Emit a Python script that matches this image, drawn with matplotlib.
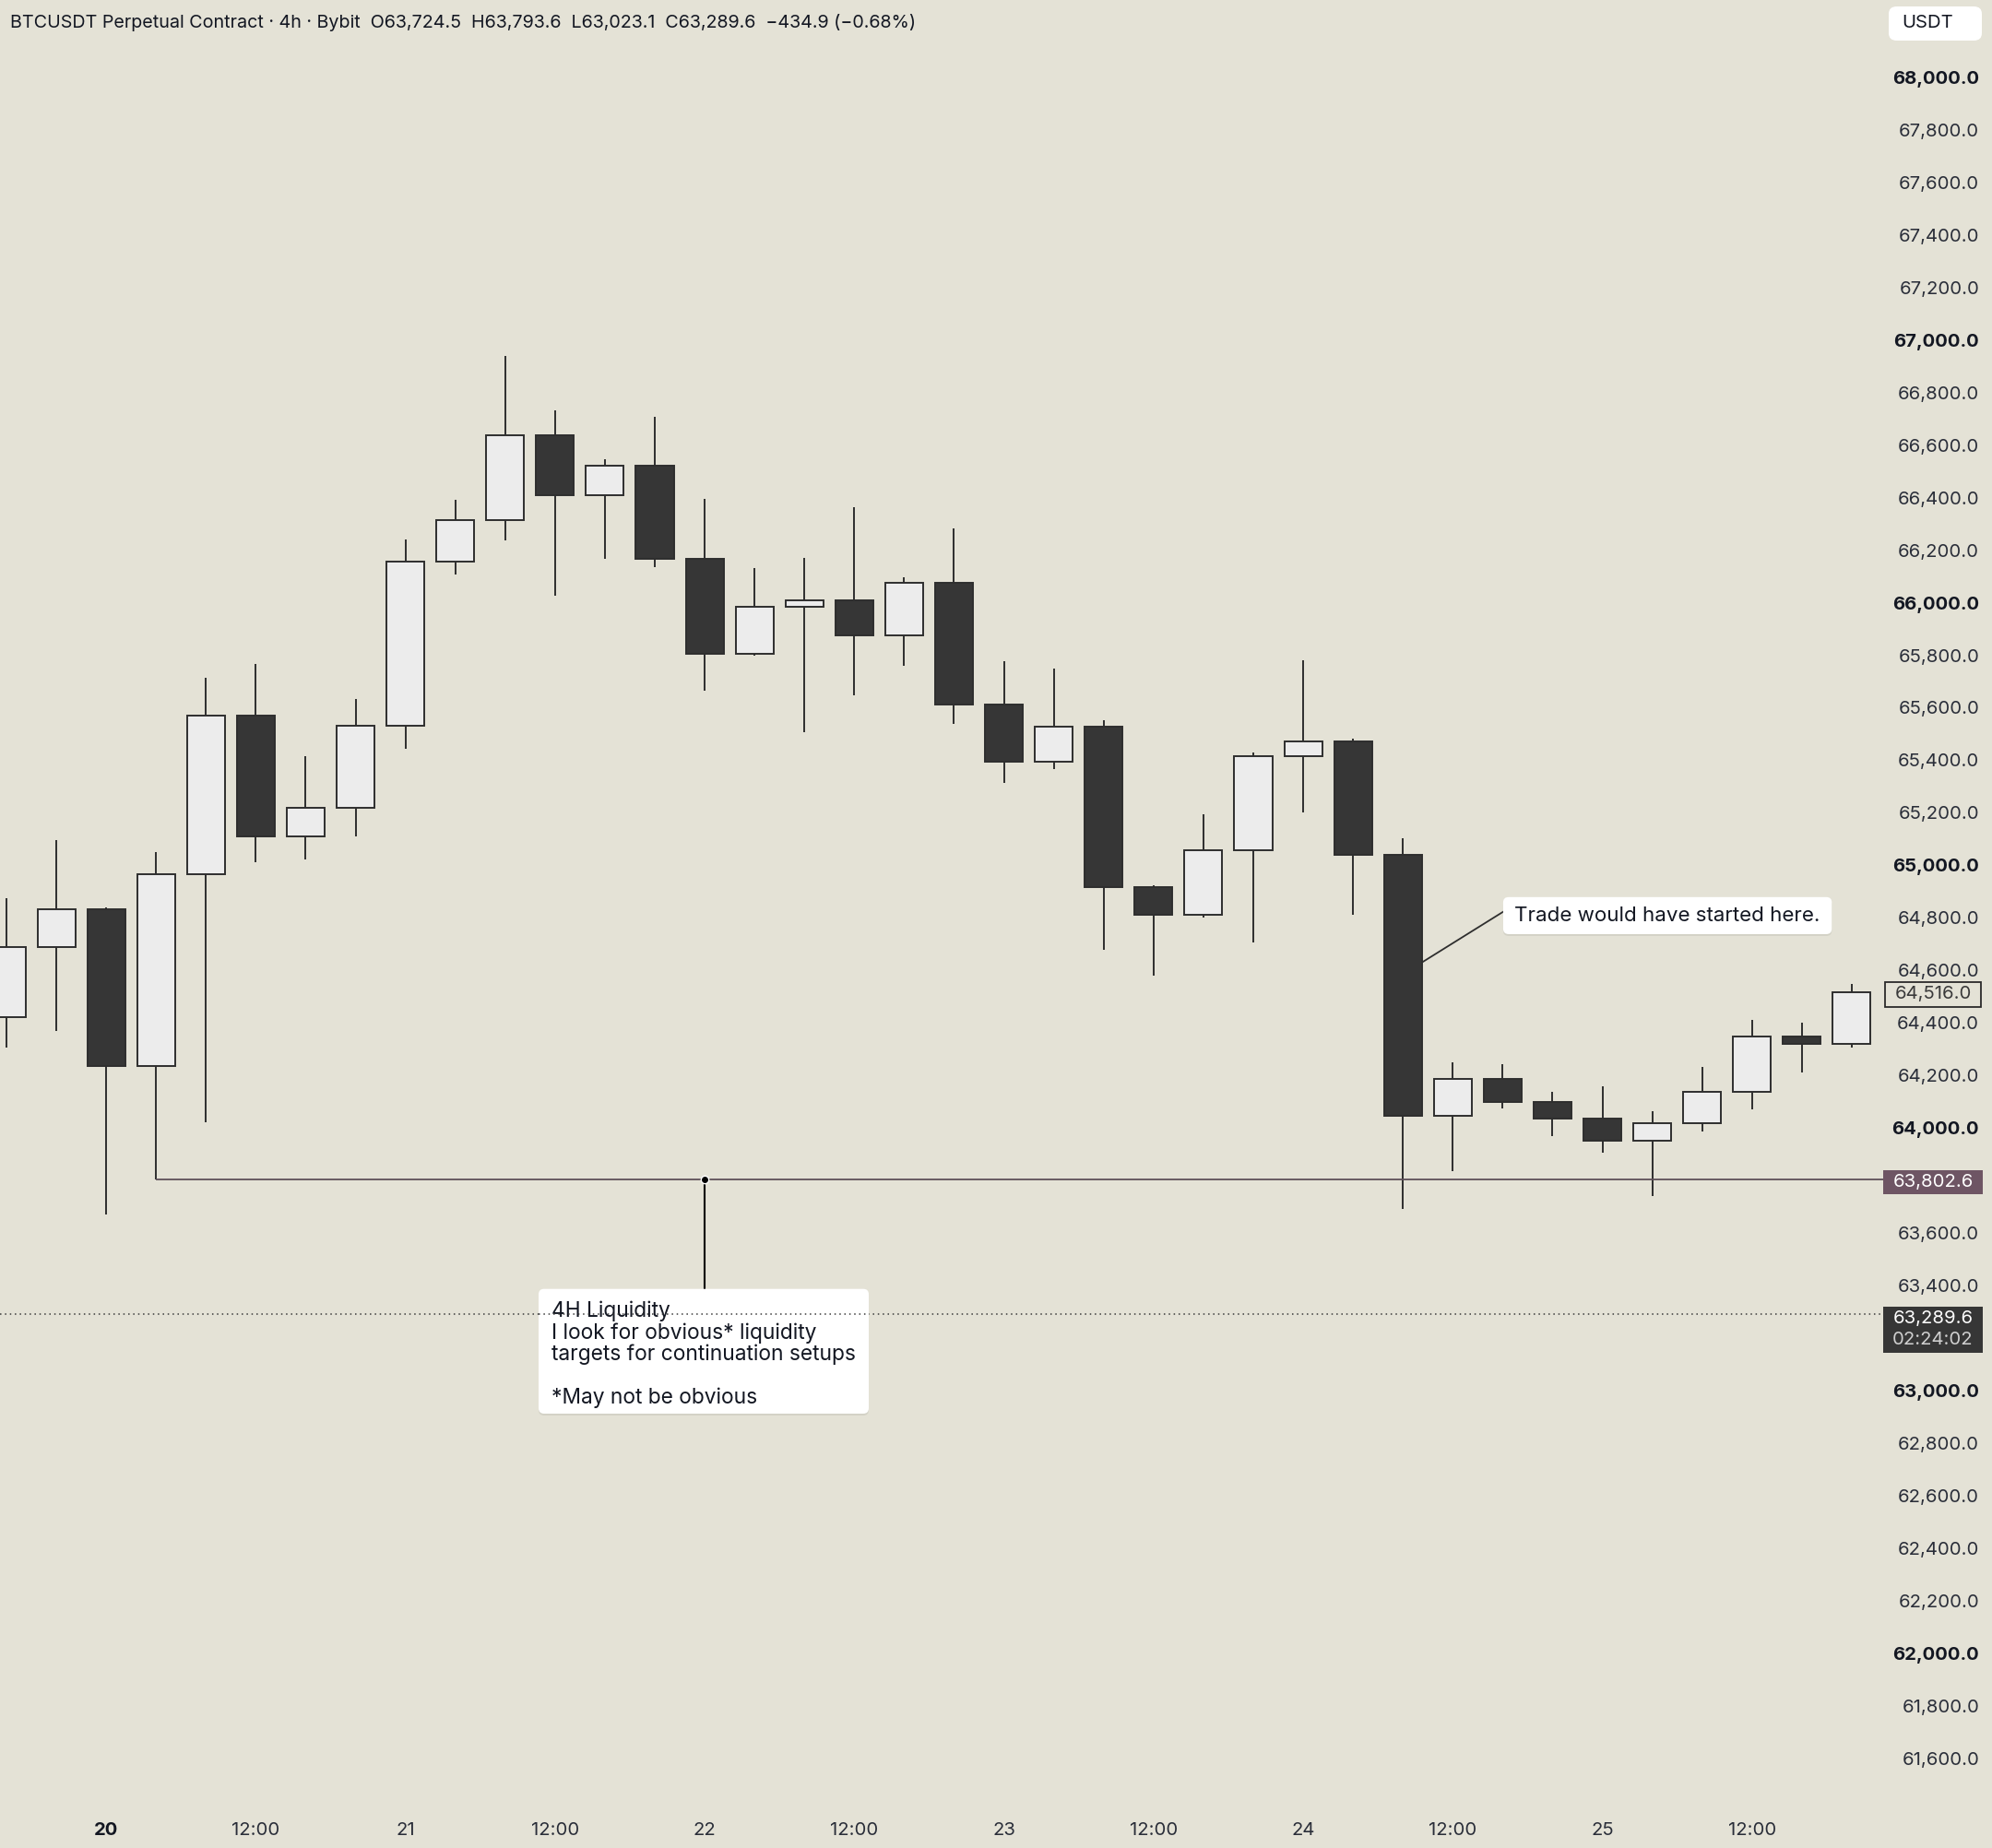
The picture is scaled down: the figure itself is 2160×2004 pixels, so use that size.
import matplotlib
matplotlib.use("Agg")
import matplotlib.pyplot as plt
import matplotlib.transforms as mtransforms
from matplotlib.patches import Rectangle, FancyBboxPatch

plt.rcParams['font.family'] = ['Inter', 'DejaVu Sans']

# 4h candles, 20th 00:00 is index 2
opens = [64422, 64690, 64831, 64235, 64967, 65570, 65110, 65218, 65533, 66157,
         66316, 66637, 66408, 66520, 66166, 65805, 65983, 66008, 65876, 66076,
         65612, 65396, 65528, 64917, 64811, 65059, 65416, 65471, 65040, 64047,
         64185, 64099, 64034, 63952, 64019, 64138, 64348, 64321]
highs = [64875, 65095, 64840, 65051, 65715, 65768, 65416, 65634, 66241, 66393,
         66938, 66731, 66545, 66707, 66397, 66131, 66171, 66364, 66096, 66283,
         65779, 65750, 65552, 64925, 65194, 65431, 65781, 65481, 65103, 64249,
         64243, 64139, 64160, 64062, 64232, 64412, 64400, 64548]
lows = [64307, 64369, 63671, 63802.6, 64023, 65011, 65022, 65110, 65442, 66109,
        66236, 66025, 66166, 66135, 65665, 65800, 65508, 65647, 65759, 65537,
        65315, 65365, 64677, 64580, 64800, 64707, 65203, 64810, 63693, 63834,
        64074, 63970, 63905, 63741, 63985, 64069, 64210, 64307]
closes = [64690, 64831, 64235, 64967, 65570, 65110, 65218, 65533, 66157, 66316,
          66637, 66408, 66520, 66166, 65805, 65983, 66008, 65876, 66076, 65612,
          65396, 65528, 64917, 64811, 65059, 65416, 65471, 65040, 64047, 64185,
          64099, 64034, 63952, 64019, 64138, 64348, 64321, 64516]

time_ticks = [2, 5, 8, 11, 14, 17, 20, 23, 26, 29, 32, 35]
time_labels = ['20', '12:00', '21', '12:00', '22', '12:00', '23', '12:00',
               '24', '12:00', '25', '12:00']

price_ticks = [p for p in range(61600, 68001, 200) if p not in (63200, 63800)]

liquidity_level = 63802.6
liquidity_start = 3
liquidity_anchor = 14
last_price = 63289.6
last_close = 64516.0

header = ("BTCUSDT Perpetual Contract · 4h · Bybit  O63,724.5  H63,793.6  "
          "L63,023.1  C63,289.6  \u2212434.9 (\u22120.68%)")

bg = '#e4e2d6'
up_col = '#ececec'
down_col = '#363636'
edge = '#2e2e2e'

fig = plt.figure(figsize=(21.6, 20.04), dpi=100, facecolor=bg)
ax = fig.add_axes([0, 54 / 2004, 2042 / 2160, 1950 / 2004], facecolor=bg)
ax.set_xlim(-0.129, 37.63)
ax.set_ylim(61447.6, 68295)
for s in ax.spines.values():
    s.set_visible(False)

# candles
bw = 0.76
for i, (o, h, l, c) in enumerate(zip(opens, highs, lows, closes)):
    ax.vlines(i, l, h, color=edge, linewidth=1.4, zorder=2)
    col = up_col if c >= o else down_col
    ax.add_patch(Rectangle((i - bw / 2, min(o, c)), bw, abs(c - o),
                           facecolor=col, edgecolor=edge, linewidth=1.4, zorder=3))

# liquidity line
ax.hlines(liquidity_level, liquidity_start, 37.63, color='#5e5059', linewidth=1.3, zorder=4)
ax.plot([liquidity_anchor], [liquidity_level], 'o', color='black', markersize=6,
        markeredgecolor='white', markeredgewidth=1.0, zorder=6)

# last price dotted line
ax.hlines(last_price, -0.129, 37.63, color='#3a3a3a', linewidth=1.1,
          linestyles=(0, (1, 2.5)), zorder=1)

asp = (1 / 0.2848) / (1 / 54.08)


def note_box(x0, x1, y0, y1):
    ax.add_patch(FancyBboxPatch((x0, y0 - 7), x1 - x0, y1 - y0,
                                boxstyle='round,pad=0,rounding_size=0.11',
                                mutation_aspect=asp, facecolor='black', alpha=0.07,
                                edgecolor='none', zorder=7))
    ax.add_patch(FancyBboxPatch((x0, y0), x1 - x0, y1 - y0,
                                boxstyle='round,pad=0,rounding_size=0.11',
                                mutation_aspect=asp, facecolor='white',
                                edgecolor='none', zorder=8))


# liquidity note
ax.plot([liquidity_anchor, liquidity_anchor], [liquidity_level, 63387],
        color='black', linewidth=1.5, zorder=5)
note_box(10.67, 17.29, 62912, 63387)
ax.text(10.93, 63341, "4H Liquidity\nI look for obvious* liquidity\n"
        "targets for continuation setups\n\n*May not be obvious",
        fontsize=16.4, color='#131722', va='top', ha='left', linespacing=1.06, zorder=9)
ax.hlines(last_price, 10.67, 17.29, color='#3a3a3a', linewidth=1.1,
          linestyles=(0, (1, 2.5)), zorder=10)

# trade note
ax.plot([28.38, 30.01], [64630, 64823], color='#2e2e2e', linewidth=1.3, zorder=5)
note_box(30.01, 36.6, 64738, 64879)
ax.text(30.23, 64808, "Trade would have started here.", fontsize=16.1,
        color='#131722', va='center', ha='left', zorder=9)

# price axis
ax.yaxis.tick_right()
ax.set_yticks(price_ticks)
ax.set_yticklabels([f"{p:,.1f}" for p in price_ticks])
ax.tick_params(axis='y', length=0, pad=75, labelsize=14.6, labelcolor='#2a2e39')
for lbl, p in zip(ax.get_yticklabels(), price_ticks):
    lbl.set_ha('right')
    if p % 1000 == 0:
        lbl.set_fontweight('bold')
        lbl.set_color('#131722')

# time axis
ax.set_xticks(time_ticks)
ax.set_xticklabels(time_labels)
ax.tick_params(axis='x', length=0, pad=19, labelsize=14.6, labelcolor='#2a2e39')
ax.get_xticklabels()[0].set_fontweight('bold')
ax.get_xticklabels()[0].set_color('#131722')

# price tags
tr = mtransforms.blended_transform_factory(ax.transAxes, ax.transData)
tx0, tx1 = 1.0, 2150 / 2042
tmid = (tx0 + tx1) / 2
ax.add_patch(Rectangle((tx0, liquidity_level - 55), tx1 - tx0, 92, transform=tr,
                       facecolor='#6e5564', edgecolor='none', clip_on=False, zorder=5))
ax.text(tmid, liquidity_level - 9, f"{liquidity_level:,.1f}", transform=tr, ha='center',
        va='center', fontsize=14.6, color='white', clip_on=False, zorder=6)

ax.add_patch(Rectangle((tx0 + 0.001, last_close - 55), tx1 - tx0 - 0.002, 96, transform=tr,
                       facecolor='none', edgecolor='#2a2a2a', linewidth=1.3,
                       clip_on=False, zorder=5))
ax.text(tmid, last_close - 7, f"{last_close:,.1f}", transform=tr, ha='center',
        va='center', fontsize=14.6, color='#3a3a3a', clip_on=False, zorder=6)

ax.add_patch(Rectangle((tx0, last_price - 145), tx1 - tx0, 173, transform=tr,
                       facecolor='#363636', edgecolor='none', clip_on=False, zorder=5))
ax.text(tmid, last_price - 16, f"{last_price:,.1f}", transform=tr, ha='center',
        va='center', fontsize=14.6, color='white', clip_on=False, zorder=6)
ax.text(tmid, last_price - 98, "02:24:02", transform=tr, ha='center',
        va='center', fontsize=14.6, color='#cfcfcf', clip_on=False, zorder=6)

# header and currency box
fig.text(11 / 2160, 1 - 24 / 2004, header, fontsize=14.2, color='#131722',
         ha='left', va='center')
fig.patches.append(FancyBboxPatch((2048 / 2160, 1 - 44 / 2004), 101 / 2160, 37 / 2004,
                                  boxstyle='round,pad=0,rounding_size=0.004',
                                  transform=fig.transFigure, facecolor='white',
                                  edgecolor='none', figure=fig))
fig.text(2062 / 2160, 1 - 25 / 2004, "USDT", fontsize=14.6, color='#131722',
         ha='left', va='center')

fig.savefig('out.png', dpi=100, facecolor=bg)
